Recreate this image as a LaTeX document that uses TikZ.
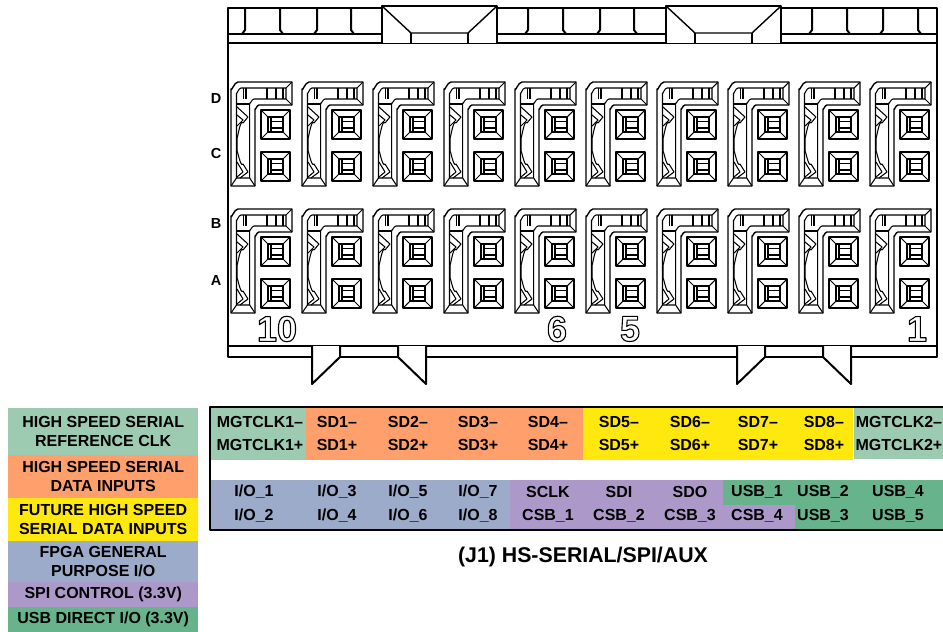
\documentclass[tikz,border=0pt]{standalone}
\usepackage{fontspec}
\setmainfont{Liberation Sans}
\usepackage{tikz}
\usetikzlibrary{positioning, calc}
\definecolor{colRefClk}{RGB}{156, 203, 178}
\definecolor{colData}{RGB}{255, 160, 108}
\definecolor{colFuture}{RGB}{255, 232, 14}
\definecolor{colGpio}{RGB}{155, 171, 201}
\definecolor{colSpi}{RGB}{172, 153, 201}
\definecolor{colUsb}{RGB}{102, 179, 140}
\newcommand{\outlinenum}[1]{\special{pdf:code q 1 Tr 1.1 w}#1\special{pdf:code Q}}

\begin{document}
\begin{tikzpicture}[x=1pt, y=-1pt, line join=round,
    body/.style={line width=2pt},
    fine/.style={line width=1.05pt},
    pin/.style={line width=1.4pt},
    rowtext/.style={font=\fontsize{16}{18}\selectfont\bfseries, inner sep=0pt, anchor=center},
    legendbox/.style={font=\fontsize{16}{19}\selectfont\bfseries, align=center, inner sep=0pt, minimum width=190pt, anchor=north west},
    rowlabel/.style={font=\fontsize{14.5}{16}\selectfont\bfseries, inner sep=0pt},
    pinnum/.style={font=\fontsize{36}{40}\selectfont\bfseries, inner sep=0pt}]
    \useasboundingbox (0, 0) rectangle (943, 632);

    % --- Shroud ---
    \draw[body] (228, 8) rectangle (937, 357);
    \draw[body] (228, 43) -- (937, 43);
    \draw[pin] (228, 34) -- (937, 34);
    \draw[body] (228, 346) -- (937, 346);

    % Latch windows on top
    \foreach \x in {382, 666} {
        \draw[body, fill=white] (\x, 43) -- (\x, 6) -- (\x+115, 6) -- (\x+115, 43);
        \draw[pin] (\x, 6) -- (\x+29, 33) -- (\x+86, 33) -- (\x+115, 6);
        \draw[fine] (\x+29, 33) -- (\x+29, 43);
        \draw[fine] (\x+86, 33) -- (\x+86, 43);
    }
    % Ticks along top band
    \foreach \a/\b in {245/280, 317/351, 528/563, 600/634, 812/847, 883/918} {
        \draw[body] (\a, 8) -- (\a, 30) -- (\a-3, 34);
        \draw[body] (\b, 8) -- (\b, 30) -- (\b+3, 34);
    }

    % Tabs at bottom
    \foreach \x in {312, 737} {
        \draw[body, fill=white] (\x, 346) -- (\x, 384) -- (\x+28, 357) -- (\x+28, 346);
        \draw[body, fill=white] (\x+114, 346) -- (\x+114, 384) -- (\x+86, 357) -- (\x+86, 346);
        \draw[body] (\x+28, 357) -- (\x+86, 357);
    }

    % --- Contacts ---
    \foreach \row in {82, 209} {
        \foreach \col in {0, ..., 9} {
            \begin{scope}[shift={(231+71*\col, \row)}]
                % blade outline
                \draw[pin] (0, 104) -- (0, 7) to[out=-90, in=180] (7, 0) -- (61, 0) -- (61, 23)
                    -- (28, 23) to[out=180, in=-90] (24, 27) -- (24, 104) -- cycle;
                \draw[fine] (5.5, 96) -- (5.5, 11) to[out=-90, in=180] (10, 6) -- (55, 6) -- (55, 17)
                    -- (23, 17) to[out=180, in=-90] (18.7, 21) -- (18.7, 96) -- cycle;
                \draw[fine] (0, 104) -- (5.5, 96) (24, 104) -- (18.7, 96);
                \draw[fine] (61, 0) -- (55, 6) (61, 23) -- (55, 17);
                \draw[fine] (5.5, 22) -- (18.7, 22);
                \foreach \v in {12.5, 15, 36, 45, 52} {
                    \draw[fine] (\v, 6) -- (\v, 17);
                }
                % chevrons
                \draw[fine] (6, 25) -- (17, 35) -- (12, 41) to[out=120, in=-90] (6, 55) -- (6, 70)
                    to[out=90, in=-120] (12, 82) -- (17, 90) -- (9, 96);
                \draw[fine] (6, 33) -- (12, 38) -- (6, 44);
                \draw[fine] (6, 80) -- (12, 90) -- (6, 95);
                % square contacts
                \foreach \sy in {28, 70} {
                    \draw[pin] (30, \sy) rectangle (59, \sy+29);
                    \draw[pin] (37, \sy+7) rectangle (52, \sy+22);
                    \draw[fine] (30, \sy) -- (37, \sy+7) (59, \sy) -- (52, \sy+7);
                    \draw[fine] (30, \sy+29) -- (37, \sy+22) (59, \sy+29) -- (52, \sy+22);
                    \draw[fine] (40, \sy+7) -- (40, \sy+22);
                    \draw[fine] (40, \sy+11.5) -- (52, \sy+11.5) (40, \sy+18) -- (52, \sy+18);
                }
            \end{scope}
        }
    }

    % Row letters
    \node[rowlabel] (rowD) at (216, 99) {D};
    \node[rowlabel] (rowC) at (216, 154) {C};
    \node[rowlabel] (rowB) at (216, 224) {B};
    \node[rowlabel] (rowA) at (216, 281) {A};

    % Pin numbers, outline only
    \node[pinnum] (num10) at (277, 329) {\outlinenum{10}};
    \node[pinnum] (num6) at (557, 329) {\outlinenum{6}};
    \node[pinnum] (num5) at (630, 329) {\outlinenum{5}};
    \node[pinnum] (num1) at (917, 329) {\outlinenum{1}};

    % --- Legend ---
    \node[legendbox, fill=colRefClk, minimum height=47pt] (legRef) at (8, 408) {HIGH SPEED SERIAL\\REFERENCE CLK};
    \node[legendbox, fill=colData, minimum height=43pt] (legData) at (8, 455) {HIGH SPEED SERIAL\\DATA INPUTS};
    \node[legendbox, fill=colFuture, minimum height=43pt] (legFuture) at (8, 498) {FUTURE HIGH SPEED\\SERIAL DATA INPUTS};
    \node[legendbox, fill=colGpio, minimum height=41pt] (legGpio) at (8, 541) {FPGA GENERAL\\PURPOSE I/O};
    \node[legendbox, fill=colSpi, minimum height=25pt] (legSpi) at (8, 582) {SPI CONTROL (3.3V)};
    \node[legendbox, fill=colUsb, minimum height=25pt] (legUsb) at (8, 607) {USB DIRECT I/O (3.3V)};

    % --- Pin table ---
    \fill[colRefClk] (211, 408) rectangle (306, 460);
    \fill[colData] (306, 408) rectangle (583, 460);
    \fill[colFuture] (583, 408) rectangle (853, 460);
    \fill[colRefClk] (854, 408) rectangle (943, 459);
    \fill[colGpio] (211, 480) rectangle (510, 529);
    \fill[colSpi] (510, 480) rectangle (723, 529);
    \fill[colSpi] (723, 505) rectangle (795, 529);
    \fill[colUsb] (723, 480) rectangle (943, 505);
    \fill[colUsb] (795, 505) rectangle (943, 529);
    \draw[body] (943, 407) -- (210, 407) -- (210, 530) -- (943, 530);

    % Signal names, upper row then lower row
    \foreach \x/\top/\bot [count=\i] in {260/MGTCLK1--/MGTCLK1+, 337/SD1--/SD1+, 408/SD2--/SD2+, 478/SD3--/SD3+,
        548/SD4--/SD4+, 619/SD5--/SD5+, 690/SD6--/SD6+, 758/SD7--/SD7+, 824/SD8--/SD8+, 899/MGTCLK2--/MGTCLK2+} {
        \node[rowtext] (sigA\i) at (\x, 422) {\top};
        \node[rowtext] (sigB\i) at (\x, 445) {\bot};
    }
    \foreach \x/\top/\bot [count=\i] in {254/I\slash O\_1/I\slash O\_2, 337/I\slash O\_3/I\slash O\_4, 408/I\slash O\_5/I\slash O\_6,
        478/I\slash O\_7/I\slash O\_8, 548/SCLK/CSB\_1, 619/SDI/CSB\_2, 690/SDO/CSB\_3, 757/USB\_1/CSB\_4, 823/USB\_2/USB\_3, 898/USB\_4/USB\_5} {
        \node[rowtext] (sigC\i) at (\x, 492) {\top};
        \node[rowtext] (sigD\i) at (\x, 516) {\bot};
    }

    \node[font=\fontsize{21.3}{24}\selectfont\bfseries, inner sep=0pt] (title) at (583, 557) {(J1) HS-SERIAL/SPI/AUX};
\end{tikzpicture}
\end{document}
